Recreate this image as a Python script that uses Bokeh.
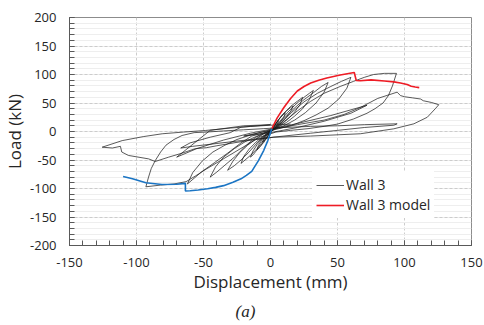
from bokeh.plotting import figure
from bokeh.models import SingleIntervalTicker, Legend, LegendItem, Title, Range1d, CustomJSTickFormatter
from bokeh.embed import file_html
from bokeh.resources import INLINE

# ---- data ----
x_ticks = [-150, -100, -50, 0, 50, 100, 150]
y_ticks = [-200, -150, -100, -50, 0, 50, 100, 150, 200]

cyc1_x = [0, 2, 4, 6, 5, 3, 0, -2, -4, -6, -5, -3, 0]
cyc1_y = [0, 8, 14, 19, 12, 5, 0, -8, -14, -19, -12, -5, 0]

cyc2_x = [0, 3, 6, 9, 11, 10, 7, 4, 1, -2, -5, -8, -10, -9, -6, -3, 0]
cyc2_y = [0, 11, 21, 29, 33, 25, 15, 7, 1, -9, -19, -27, -32, -24, -14, -6, 0]

cyc3_x = [0, 4, 8, 12, 15, 17, 15, 11, 7, 3, 0, -3, -7, -11, -13, -15, -13, -10, -6, -2, 1]
cyc3_y = [0, 14, 27, 36, 42, 45, 35, 23, 13, 5, 0, -11, -24, -35, -41, -45, -34, -23, -12, -4, 1]

cyc4_x = [1, 5, 10, 15, 20, 24, 22, 18, 13, 8, 3, -1, -5, -10, -15, -19, -22, -20, -16, -11, -6, -2, 1]
cyc4_y = [1, 17, 32, 44, 53, 60, 47, 34, 22, 12, 4, -1, -15, -30, -42, -50, -56, -44, -31, -19, -9, -2, 2]

cyc5_x = [1, 7, 13, 19, 25, 29, 32, 29, 24, 18, 12, 6, 1, -4, -10, -16, -22, -27, -32, -28, -23, -17, -11, -5, 0]
cyc5_y = [2, 18, 34, 48, 60, 67, 72, 56, 40, 27, 16, 8, 2, -6, -20, -36, -50, -60, -68, -52, -37, -24, -13, -4, 2]

cyc6_x = [0, 8, 16, 24, 32, 38, 43, 40, 34, 26, 18, 10, 3, -4, -11, -18, -26, -34, -40, -45, -41, -35, -27, -19, -11, -4, 1]
cyc6_y = [2, 18, 37, 54, 68, 79, 86, 69, 50, 33, 20, 10, 4, -3, -10, -24, -43, -59, -71, -80, -62, -45, -30, -18, -9, -2, 2]

cyc7_x = [1, 8, 16, 25, 35, 45, 53, 60, 57, 51, 43, 34, 25, 16, 8, 1, -6, -14, -22, -32, -42, -51, -57, -62,
          -58, -51, -43, -34, -25, -16, -8, -2, 2]
cyc7_y = [2, 15, 34, 52, 67, 79, 88, 95, 76, 57, 41, 29, 19, 11, 6, 2, -3, -8, -20, -38, -55, -70, -82, -92,
          -72, -52, -36, -24, -14, -7, -2, 1, 3]

cyc8_x = [2, 10, 20, 30, 40, 52, 62, 70, 77, 85, 94, 91, 88, 84, 78, 72, 62, 50, 40, 28, 15, 4,
          -8, -18, -28, -38, -48, -56, -63, -72, -82, -93,
          -91, -89, -86, -82, -78, -72, -66, -57, -48, -35, -20, -5]
cyc8_y = [3, 17, 36, 53, 67, 79, 88, 95, 100, 102, 102, 80, 63, 50, 40, 32, 22, 13, 9, 5, 2, -1,
          -10, -24, -38, -52, -66, -78, -88, -92, -94, -97,
          -80, -65, -51, -36, -24, -14, -7, -2, -1, 1, 3, 5]

cyc9_x = [-5, 10, 30, 50, 70, 94.5, 92, 70, 50, 30, 10, -10, -22, -40, -58, -67, -60, -45, -30, -22, -10, 0]
cyc9_y = [5, 7, 9, 10, 12, 13.5, 11, 7, 2, -3, -8, -13, -16, -21, -26, -29, -20, -10, -2, 7.6, 10, 12]

cyc10_x = [0, -20, -45, -70, -55, -35, -15, 0, 20, 45, 72, 60, 40, 20, 0, -20]
cyc10_y = [12, 10, 2, -45, -30, -15, -3, 4, 14, 28, 46, 32, 18, 7, -2, -8]

cyc11_x = [-20, -10, 0, 20, 40, 55, 67, 80, 94.5, 97, 100, 106, 112, 114, 120, 125.6,
           123, 117, 107, 92, 67, 30, 2.5]
cyc11_y = [-8, -3, 3, 12, 20, 30, 42, 58, 69, 63, 61, 59, 57, 54, 51, 47,
           40, 25, 13.5, 4.7, -4, -8, -10]

cyc12_x = [2.5, -20, -40, -48, -56, -66, -76, -86, -91, -106, -111, -112, -118, -125.6,
           -110.7, -95, -80.8, -65, -48.5, -30, -15, 0, 15]
cyc12_y = [-10, -17, -25, -28.5, -30, -38, -45, -52.6, -48, -42, -36, -26, -29, -27.5,
           -16, -9, -4, -1, 1.8, 6, 8.8, 11, 13]

model_pos_x = [1, 5, 10, 15, 20, 25, 30, 36, 42, 52, 62.5, 64, 67, 75, 85, 92, 97, 102, 105, 108, 111]
model_pos_y = [5, 24, 42, 58, 71, 79, 85, 90, 94, 99, 103.5, 89.5, 89, 90.5, 88.5, 87, 85, 82.5, 79.5, 78, 77]

model_neg_x = [1, -2, -5, -9, -14, -18, -22, -28, -35, -41, -47, -54, -60, -63.5, -63.5, -70, -81, -93, -103, -110]
model_neg_y = [5, -16, -33, -51, -70, -77, -83, -89, -95, -98, -100.5, -102.5, -104, -104.5, -91, -92.5, -93, -90, -83, -79]

wall3_x = (cyc1_x + cyc2_x + cyc3_x + cyc4_x + cyc5_x + cyc6_x + cyc7_x + cyc8_x
           + cyc9_x + cyc10_x + cyc11_x + cyc12_x)
wall3_y = (cyc1_y + cyc2_y + cyc3_y + cyc4_y + cyc5_y + cyc6_y + cyc7_y + cyc8_y
           + cyc9_y + cyc10_y + cyc11_y + cyc12_y)

FONT = "Open Sans"
TXT = "#262626"

p = figure(width=484, height=325, output_backend="svg", toolbar_location=None,
           x_range=Range1d(-150, 150), y_range=Range1d(-200, 200),
           min_border_left=69, min_border_right=13, min_border_top=17, min_border_bottom=80,
           background_fill_color="white", border_fill_color="white")

p.outline_line_color = "#8c8c8c"
p.outline_line_width = 1

for ax, ticks in ((p.xaxis[0], x_ticks), (p.yaxis[0], y_ticks)):
    ax.ticker = SingleIntervalTicker(interval=ticks[1] - ticks[0], num_minor_ticks=5)
    ax.formatter = CustomJSTickFormatter(code="return tick.toString();")
    ax.axis_line_color = "#595959"
    ax.major_tick_line_color = "#595959"
    ax.minor_tick_line_color = "#595959"
    ax.major_tick_in = 5
    ax.major_tick_out = 0
    ax.minor_tick_in = 5
    ax.minor_tick_out = 0
    ax.major_label_text_font = FONT
    ax.major_label_text_font_size = "13px"
    ax.major_label_text_color = TXT
    ax.axis_label_text_font = FONT
    ax.axis_label_text_font_size = "17px"
    ax.axis_label_text_font_style = "normal"
    ax.axis_label_text_color = TXT

p.xaxis.axis_label = "Displacement (mm)"
p.yaxis.axis_label = "Load (kN)"
p.xaxis.major_label_standoff = 12
p.yaxis.major_label_standoff = 13
p.xaxis.axis_label_standoff = 0
p.yaxis.axis_label_standoff = 1

p.xgrid.grid_line_color = "#cccccc"
p.xgrid.grid_line_dash = "3 2"
p.ygrid.grid_line_color = "#cccccc"
p.ygrid.grid_line_dash = "3 2"
p.ygrid.minor_grid_line_color = "#eeeeee"

r_wall = p.line(wall3_x, wall3_y, line_color="#1a1a1a", line_width=0.8, line_alpha=0.9)
r_pos = p.line(model_pos_x, model_pos_y, line_color="#ee1c25", line_width=1.6)
r_neg = p.line(model_neg_x, model_neg_y, line_color="#1b75c4", line_width=1.6)

legend = Legend(items=[LegendItem(label="Wall 3", renderers=[r_wall]),
                       LegendItem(label="Wall 3 model", renderers=[r_pos])],
                location=(243, 27), border_line_alpha=0, background_fill_alpha=1,
                background_fill_color="white", label_text_font=FONT,
                label_text_font_size="14px", label_text_color=TXT,
                glyph_width=28, glyph_height=18, label_standoff=2, spacing=1,
                padding=4, margin=0)
p.add_layout(legend, "center")

cap = Title(text="(a)", align="left", offset=166, standoff=8, text_font="Liberation Serif",
            text_font_size="17px", text_font_style="italic", text_color=TXT)
p.add_layout(cap, "below")

open("out.html", "w").write(file_html(p, INLINE))
